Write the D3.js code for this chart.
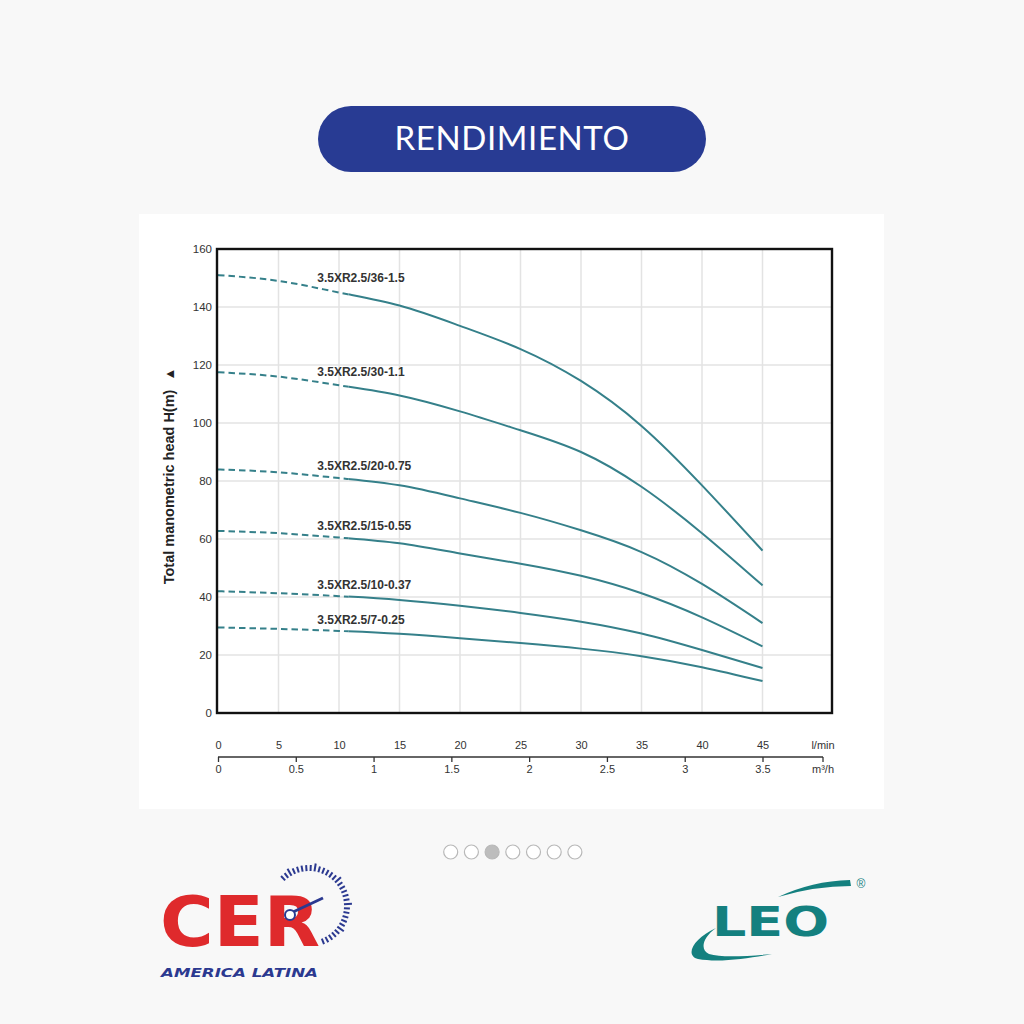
<!DOCTYPE html>
<html><head><meta charset="utf-8">
<script src="https://cdn.jsdelivr.net/npm/d3@7"></script>
<style>
html,body{margin:0;padding:0;background:#f8f8f8;}
svg{display:block;}
</style></head>
<body>
<svg id="c" width="1024" height="1024"></svg>
<script>
// ---- data ----
const flowLmin = [0, 5, 10, 15, 20, 25, 30, 35, 40, 45];
const modelNames = ["3.5XR2.5/36-1.5", "3.5XR2.5/30-1.1", "3.5XR2.5/20-0.75", "3.5XR2.5/15-0.55", "3.5XR2.5/10-0.37", "3.5XR2.5/7-0.25"];
const head_36_15  = [151, 149, 145, 140.5, 133.5, 125.5, 114.5, 99, 78.5, 56];
const head_30_11  = [117.5, 116, 113, 109.5, 104, 97.5, 90, 78, 62, 44];
const head_20_075 = [84, 83, 81, 78.5, 74, 69, 63, 55.5, 44.5, 31];
const head_15_055 = [62.8, 62, 60.5, 58.5, 55, 51.5, 47.3, 41.3, 33, 23];
const head_10_037 = [42, 41.3, 40.3, 39, 37, 34.5, 31.5, 27.4, 21.7, 15.5];
const head_7_025  = [29.5, 29, 28.3, 27.3, 25.8, 24.1, 22.2, 19.6, 15.8, 11];
const headTicks = [0, 20, 40, 60, 80, 100, 120, 140, 160];
const lminTicks = [0, 5, 10, 15, 20, 25, 30, 35, 40, 45];
const m3hTicks = [0, 0.5, 1, 1.5, 2, 2.5, 3, 3.5];
const dashedUntil = 10.8;   // l/min: curves are dashed below this flow
const labelFlow = 8.2;      // l/min where model labels start
const titleText = "RENDIMIENTO";
const yTitle = "Total manometric head H(m)";

const series = modelNames.map((name, i) => ({
  name,
  values: [head_36_15, head_30_11, head_20_075, head_15_055, head_10_037, head_7_025][i]
    .map((h, j) => [flowLmin[j], h])
}));

const svg = d3.select("#c");
const FONT = "'Liberation Sans', Arial, sans-serif";
const LINE = "#35808a";

// page background
svg.append("rect").attr("width", 1024).attr("height", 1024).attr("fill", "#f8f8f8");

// title pill
svg.append("rect").attr("x", 318).attr("y", 106).attr("width", 388).attr("height", 66)
  .attr("rx", 33).attr("fill", "#283b93");
svg.append("text").attr("x", 512).attr("y", 150).attr("text-anchor", "middle")
  .attr("font-family", "Lato, sans-serif").attr("font-size", 33).attr("letter-spacing", 0.6)
  .attr("fill", "#fff").text(titleText);

// white panel
svg.append("rect").attr("x", 139).attr("y", 214).attr("width", 745).attr("height", 595).attr("fill", "#fff");

// plot frame
const L = 217, R = 832, T = 249, B = 713;
const x = d3.scaleLinear().domain([0, 45]).range([218, 762.5]);
const xm = d3.scaleLinear().domain([0, 3.5]).range([218, 762.5]);
const y = d3.scaleLinear().domain([0, 160]).range([B, T]);

// grid
const grid = svg.append("g").attr("stroke", "#e3e3e3").attr("stroke-width", 1.5);
grid.selectAll("line.h").data(headTicks.filter(d => d > 0 && d < 160)).join("line")
  .attr("x1", L).attr("x2", R).attr("y1", d => y(d)).attr("y2", d => y(d));
grid.selectAll("line.v").data(lminTicks.filter(d => d > 0)).join("line")
  .attr("x1", d => x(d)).attr("x2", d => x(d)).attr("y1", T).attr("y2", B);

// clip paths
const defs = svg.append("defs");
defs.append("clipPath").attr("id", "dash").append("rect")
  .attr("x", L).attr("y", T).attr("width", x(dashedUntil) - L).attr("height", B - T);
defs.append("clipPath").attr("id", "solid").append("rect")
  .attr("x", x(dashedUntil)).attr("y", T).attr("width", R - x(dashedUntil)).attr("height", B - T);

const line = d3.line().x(d => x(d[0])).y(d => y(d[1])).curve(d3.curveNatural);
const curves = svg.append("g").attr("fill", "none").attr("stroke", LINE).attr("stroke-width", 2);
curves.selectAll("path.d").data(series).join("path")
  .attr("d", d => line(d.values)).attr("clip-path", "url(#dash)").attr("stroke-dasharray", "6.5,4");
curves.selectAll("path.s").data(series).join("path")
  .attr("d", d => line(d.values)).attr("clip-path", "url(#solid)");

function headAt(vals, q) {
  for (let i = 0; i < vals.length - 1; i++) {
    if (q >= vals[i][0] && q <= vals[i + 1][0]) {
      const t = (q - vals[i][0]) / (vals[i + 1][0] - vals[i][0]);
      return vals[i][1] + t * (vals[i + 1][1] - vals[i][1]);
    }
  }
  return vals[vals.length - 1][1];
}
svg.append("g").selectAll("text").data(series).join("text")
  .attr("x", x(labelFlow)).attr("y", d => y(headAt(d.values, labelFlow)) - 6)
  .attr("font-family", FONT).attr("font-size", 12).attr("font-weight", "bold")
  .attr("fill", "#333").text(d => d.name);

// frame
svg.append("rect").attr("x", L).attr("y", T).attr("width", R - L).attr("height", B - T)
  .attr("fill", "none").attr("stroke", "#111").attr("stroke-width", 2.4);

// y axis
const ya = svg.append("g").attr("transform", `translate(${L},0)`)
  .call(d3.axisLeft(y).tickValues(headTicks).tickSize(0).tickPadding(5));
ya.select(".domain").remove();
ya.selectAll("text").attr("font-family", FONT).attr("font-size", 11.5).attr("fill", "#333");

// y title
const yt = svg.append("text").attr("transform", "translate(174,476) rotate(-90)")
  .attr("text-anchor", "middle").attr("font-family", FONT).attr("font-size", 14.5)
  .attr("font-weight", "bold").attr("fill", "#222");
yt.append("tspan").text(yTitle);
yt.append("tspan").attr("dx", 9).attr("font-size", 13).text("▲");

// bottom axes
const AX = 757;
const xa = svg.append("g").attr("transform", `translate(0,${AX})`)
  .call(d3.axisTop(x).tickValues(lminTicks).tickSize(0).tickPadding(8));
xa.select(".domain").remove();
xa.selectAll("text").attr("font-family", FONT).attr("font-size", 11).attr("fill", "#333");

const ma = svg.append("g").attr("transform", `translate(0,${AX})`)
  .call(d3.axisBottom(xm).tickValues(m3hTicks).tickSize(5).tickPadding(3).tickFormat(d3.format("")));
ma.select(".domain").remove();
ma.selectAll("line").attr("stroke", "#333").attr("stroke-width", 1.3);
ma.selectAll("text").attr("font-family", FONT).attr("font-size", 11).attr("fill", "#333");
const endX = 823;
svg.append("line").attr("x1", xm(0)).attr("x2", endX).attr("y1", AX).attr("y2", AX)
  .attr("stroke", "#333").attr("stroke-width", 1.3);
svg.append("line").attr("x1", endX).attr("x2", endX).attr("y1", AX).attr("y2", AX + 5)
  .attr("stroke", "#333").attr("stroke-width", 1.3);
svg.append("text").attr("x", endX).attr("y", AX - 8).attr("text-anchor", "middle")
  .attr("font-family", FONT).attr("font-size", 11).attr("fill", "#333").text("l/min");
svg.append("text").attr("x", endX).attr("y", AX + 16).attr("text-anchor", "middle")
  .attr("font-family", FONT).attr("font-size", 11).attr("fill", "#333").text("m³/h");

// carousel dots
const dots = [0, 1, 2, 3, 4, 5, 6];
svg.append("g").selectAll("circle").data(dots).join("circle")
  .attr("cx", d => 450.7 + d * 20.7).attr("cy", 852).attr("r", 7)
  .attr("fill", d => d === 2 ? "#bdbdbd" : "#fff").attr("stroke", "#b8b8b8").attr("stroke-width", 1.2);

// CER logo
const cer = svg.append("g");
cer.append("text").attr("x", 160).attr("y", 946).attr("font-family", "'DejaVu Sans', sans-serif")
  .attr("font-weight", "bold").attr("font-size", 70).attr("fill", "#df2a2c")
  .attr("textLength", 160).attr("lengthAdjust", "spacingAndGlyphs").text("CER");
cer.append("text").attr("x", 161).attr("y", 977).attr("font-family", "'DejaVu Sans', sans-serif")
  .attr("font-weight", "bold").attr("font-style", "italic").attr("font-size", 12).attr("fill", "#2b3990")
  .attr("textLength", 157).attr("lengthAdjust", "spacingAndGlyphs").text("AMERICA LATINA");
const gc = [309, 906];
const tickAngles = d3.range(-133, 74, 6.5);
cer.append("g").selectAll("line").data(tickAngles).join("line")
  .attr("x1", a => gc[0] + 35 * Math.cos(a * Math.PI / 180))
  .attr("y1", a => gc[1] + 35 * Math.sin(a * Math.PI / 180))
  .attr("x2", a => gc[0] + (a % 3 === 0 ? 43 : 41) * Math.cos(a * Math.PI / 180))
  .attr("y2", a => gc[1] + (a % 3 === 0 ? 43 : 41) * Math.sin(a * Math.PI / 180))
  .attr("stroke", "#2b3990").attr("stroke-width", 2);
cer.append("line").attr("x1", 293).attr("y1", 912).attr("x2", 323).attr("y2", 898)
  .attr("stroke", "#2b3990").attr("stroke-width", 3);
cer.append("circle").attr("cx", 290).attr("cy", 915).attr("r", 5)
  .attr("fill", "#fff").attr("stroke", "#2b3990").attr("stroke-width", 2);

// LEO logo
const leo = svg.append("g").attr("fill", "#14807f");
leo.append("text").attr("x", 712).attr("y", 936).attr("font-family", "'DejaVu Sans', sans-serif")
  .attr("font-weight", "bold").attr("font-size", 40)
  .attr("textLength", 117).attr("lengthAdjust", "spacingAndGlyphs").text("LEO");
leo.append("path").attr("d", "M778,897 Q812,881 850,880 L851,886 Q815,886 778,897 Z");
leo.append("path").attr("d", "M716,928 C694,938 684,955 698,959 C720,963 750,958 772,954 C748,956 722,958 709,954 C700,950 702,938 716,928 Z");
leo.append("text").attr("x", 861).attr("y", 888).attr("text-anchor", "middle")
  .attr("font-family", FONT).attr("font-size", 12).text("®");
</script>
</body></html>
